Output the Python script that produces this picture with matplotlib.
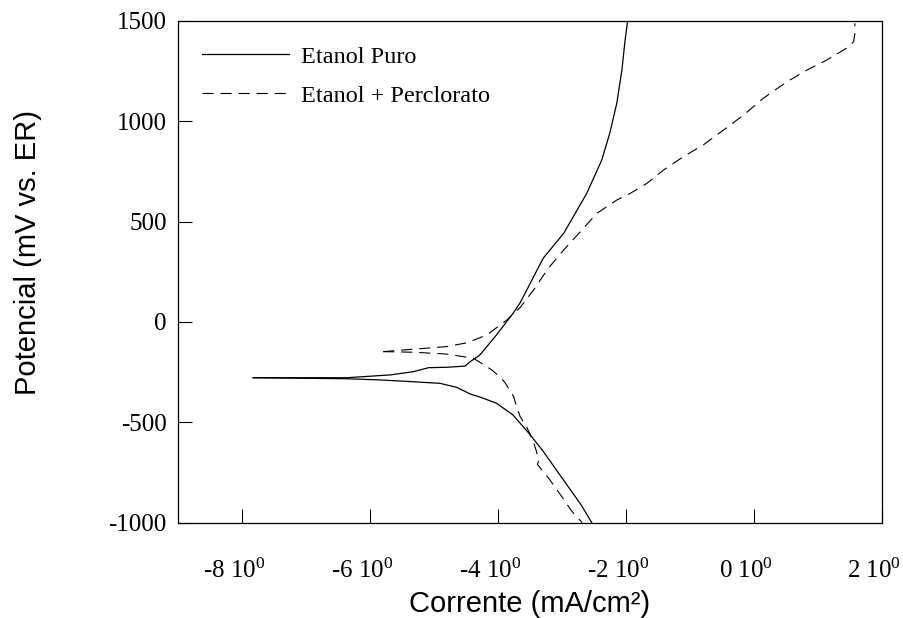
import matplotlib
matplotlib.use("Agg")
import matplotlib.pyplot as plt
import matplotlib.transforms as mtransforms

plt.rcParams['font.family'] = 'Liberation Serif'
plt.rcParams['mathtext.fontset'] = 'custom'
plt.rcParams['mathtext.rm'] = 'Liberation Serif'
plt.rcParams['mathtext.it'] = 'Liberation Serif'
plt.rcParams['mathtext.bf'] = 'Liberation Serif'
plt.rcParams['axes.unicode_minus'] = False
plt.rcParams['lines.scale_dashes'] = False

# Etanol Puro - cathodic (lower) branch
puro_cat_x = [-7.82, -6.36, -5.84, -5.32, -4.90, -4.64, -4.43, -4.27, -4.02, -3.76, -3.52,
              -3.30, -3.10, -2.90, -2.70, -2.53]
puro_cat_y = [-278, -283, -289, -298, -306, -326, -359, -375, -405, -464, -552,
              -640, -730, -820, -910, -1000]

# Etanol Puro - anodic (upper) branch
puro_an_x = [-7.82, -6.36, -5.68, -5.32, -5.08, -4.80, -4.51, -4.43, -4.28, -4.02, -3.76,
             -3.65, -3.29, -2.97, -2.61, -2.375, -2.25, -2.14, -2.06, -2.01, -1.97]
puro_an_y = [-278, -278, -264, -248, -228, -226, -220, -198, -165, -65, 43,
             95, 317, 441, 640, 806, 939, 1089, 1254, 1404, 1500]

# Etanol + Perclorato - cathodic (lower) branch
perc_cat_x = [-5.79, -5.32, -4.80, -4.38, -4.17, -4.09, -3.94, -3.88, -3.75, -3.73, -3.65,
              -3.55, -3.45, -3.40, -3.36, -3.38, -3.20, -3.00, -2.85, -2.68]
perc_cat_y = [-148, -151, -160, -181, -223, -240, -281, -306, -372, -397, -472,
              -522, -590, -640, -690, -710, -780, -870, -940, -1000]

# Etanol + Perclorato - anodic (upper) branch
perc_an_x = [-5.79, -5.32, -4.80, -4.48, -4.17, -3.86, -3.65, -3.44, -3.21, -2.97, -2.71,
             -2.45, -2.14, -1.93, -1.67, -1.41, -1.10, -0.79, -0.47, -0.16, 0.15, 0.52,
             0.83, 1.14, 1.45, 1.56, 1.58, 1.58]
perc_an_y = [-148, -136, -123, -104, -65, 9, 72, 159, 267, 358, 449,
             541, 607, 640, 690, 756, 823, 881, 956, 1030, 1114, 1196,
             1254, 1304, 1363, 1395, 1437, 1487]

xticks = [-8, -6, -4, -2, 0, 2]
xtick_labels = ['-8 10$^0$', '-6 10$^0$', '-4 10$^0$', '-2 10$^0$', '0 10$^0$', '2 10$^0$']
yticks = [-1000, -500, 0, 500, 1000, 1500]
ytick_labels = ['-1000', '-500', '0', '500', '1000', '1500']

fig = plt.figure(figsize=(9.04, 6.18), dpi=100)
ax = fig.add_axes([0.1966, 0.1542, 0.7788, 0.8123])

dash = (8, 5)
ax.plot(puro_an_x, puro_an_y, color='black', lw=0.9, label='Etanol Puro')
ax.plot(puro_cat_x, puro_cat_y, color='black', lw=0.9)
ax.plot(perc_an_x, perc_an_y, color='black', lw=0.8, dashes=dash, label='Etanol + Perclorato')
ax.plot(perc_cat_x, perc_cat_y, color='black', lw=0.8, dashes=dash)

ax.set_xlim(-9, 2)
ax.set_ylim(-1000, 1500)

ax.set_xticks(xticks)
ax.set_xticklabels(xtick_labels, fontsize=18)
ax.set_yticks(yticks)
ax.set_yticklabels(ytick_labels, fontsize=18)
ax.tick_params(direction='in', length=10, width=0.8, top=False, right=False)
ax.tick_params(axis='x', pad=26)
ax.tick_params(axis='y', pad=8)

# shift x labels slightly to the left like the original
offset = mtransforms.ScaledTranslation(-8 / 100, 0, fig.dpi_scale_trans)
for lbl in ax.get_xticklabels():
    lbl.set_transform(lbl.get_transform() + offset)

for s in ax.spines.values():
    s.set_linewidth(0.9)

ax.set_xlabel('Corrente (mA/cm²)', family='Liberation Sans', fontsize=21, labelpad=5)
ax.set_ylabel('Potencial (mV vs. ER)', family='Liberation Sans', fontsize=21)
ax.yaxis.set_label_coords(-0.193, 0.539)

ax.legend(loc='upper left', bbox_to_anchor=(0.034, 0.95), frameon=False, fontsize=17.5,
          handlelength=3.6, handletextpad=0.5, borderpad=0, borderaxespad=0,
          labelspacing=0.7)

fig.savefig('out.png', dpi=100)
